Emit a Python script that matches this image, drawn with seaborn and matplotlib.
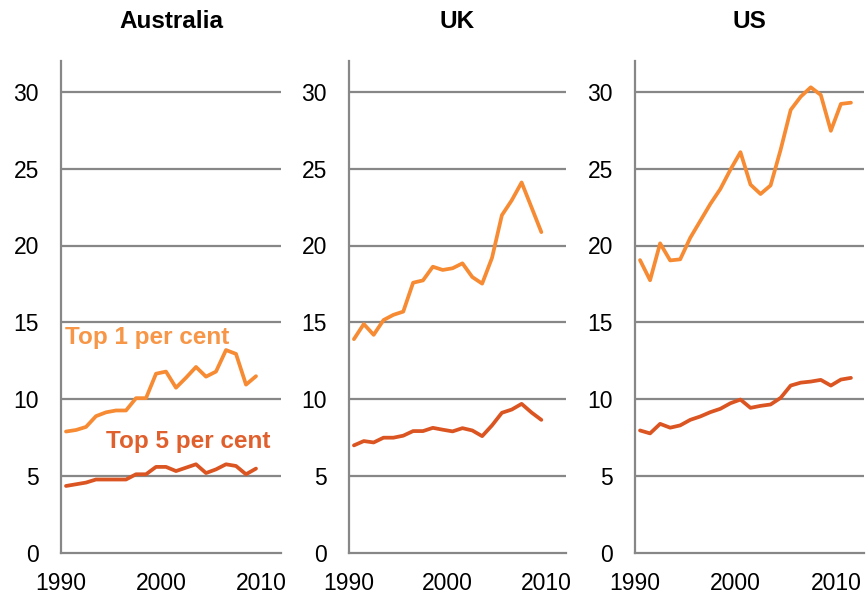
import matplotlib
matplotlib.use("Agg")
import matplotlib.pyplot as plt
import seaborn as sns
import pandas as pd

# ---- data ----
countries = ["Australia", "UK", "US"]

years_aus = list(range(1990, 2010))
aus_top1 = [7.9, 8.0, 8.2, 8.9, 9.15, 9.27, 9.27, 10.07, 10.07, 11.66,
            11.8, 10.75, 11.4, 12.1, 11.47, 11.8, 13.2, 12.95, 10.95, 11.5]
aus_top5 = [4.36, 4.47, 4.58, 4.78, 4.78, 4.78, 4.78, 5.12, 5.12, 5.6,
            5.6, 5.33, 5.55, 5.77, 5.2, 5.44, 5.77, 5.66, 5.12, 5.49]

years_uk = list(range(1990, 2010))
uk_top1 = [13.91, 14.89, 14.19, 15.15, 15.49, 15.70, 17.58, 17.73, 18.62, 18.41,
           18.52, 18.84, 17.95, 17.52, 19.2, 21.97, 22.94, 24.1, 22.49, 20.87]
uk_top5 = [7.0, 7.28, 7.19, 7.5, 7.5, 7.63, 7.93, 7.93, 8.14, 8.02,
           7.91, 8.12, 7.97, 7.6, 8.3, 9.12, 9.33, 9.7, 9.14, 8.66]

years_us = list(range(1990, 2012))
us_top1 = [19.05, 17.74, 20.14, 19.03, 19.1, 20.5, 21.6, 22.7, 23.68, 24.93, 26.07,
           23.96, 23.35, 23.91, 26.23, 28.82, 29.68, 30.29, 29.79, 27.46, 29.21, 29.29]
us_top5 = [7.97, 7.78, 8.4, 8.15, 8.3, 8.66, 8.88, 9.16, 9.38, 9.74, 9.98,
           9.44, 9.57, 9.66, 10.09, 10.89, 11.08, 11.15, 11.26, 10.89, 11.28, 11.39]

series_names = ["Top 1 per cent", "Top 5 per cent"]
y_ticks = [0, 5, 10, 15, 20, 25, 30]
x_ticks = [1990, 2000, 2010]

frames = []
for c, yrs, t1, t5 in [("Australia", years_aus, aus_top1, aus_top5),
                       ("UK", years_uk, uk_top1, uk_top5),
                       ("US", years_us, us_top1, us_top5)]:
    for name, vals in zip(series_names, [t1, t5]):
        frames.append(pd.DataFrame({"country": c, "year": yrs,
                                    "series": name, "share": vals}))
df = pd.concat(frames, ignore_index=True)
df["xpos"] = df["year"] + 0.5  # annual values plotted mid-year

# ---- style ----
sns.set_style("white")
plt.rcParams["font.family"] = ["Liberation Sans", "DejaVu Sans"]

line_colors = {"Top 1 per cent": "#F68B33", "Top 5 per cent": "#DB5522"}
text_colors = {"Top 1 per cent": "#F79646", "Top 5 per cent": "#E0602D"}
grid_color = "#878787"

W, H = 868, 596
fig = plt.figure(figsize=(W / 100, H / 100), dpi=100)

# pixel layout: (left, right, xmax)
layout = {"Australia": (61, 281, 2012.0),
          "UK": (349, 566, 2012.0),
          "US": (635, 864, 2012.8)}
y_bottom_px, y_top_px = 553, 61
title_center_px = 21

for c in countries:
    l, r, xmax = layout[c]
    ax = fig.add_axes([l / W, (H - y_bottom_px) / H, (r - l) / W,
                       (y_bottom_px - y_top_px) / H])
    sub = df[df["country"] == c]
    sns.lineplot(data=sub, x="xpos", y="share", hue="series",
                 palette=line_colors, linewidth=2.7, ax=ax, legend=False,
                 zorder=3)
    ax.set_xlim(1990, xmax)
    ax.set_ylim(0, 32)
    ax.set_yticks(y_ticks)
    ax.set_xticks(x_ticks)
    ax.set_xticklabels([str(t) for t in x_ticks])
    ax.set_xlabel("")
    ax.set_ylabel("")
    for yv in y_ticks[1:]:
        ax.axhline(yv, color=grid_color, lw=1.6, zorder=1)
    for s in ["top", "right"]:
        ax.spines[s].set_visible(False)
    for s in ["left", "bottom"]:
        ax.spines[s].set_color(grid_color)
        ax.spines[s].set_linewidth(1.6)
    ax.tick_params(axis="both", which="major", length=5, width=1.3,
                   color=grid_color, direction="out", labelsize=16.5,
                   labelcolor="black")
    ax.tick_params(axis="y", pad=11)
    ax.tick_params(axis="x", pad=9)
    ax.set_title(c, fontsize=17.5, fontweight="bold", pad=0, color="black",
                 y=(y_bottom_px - title_center_px) / (y_bottom_px - y_top_px),
                 va="center")
    ax.patch.set_alpha(0)

    if c == "Australia":
        ax.text(1990.4, 14.0, "Top 1 per cent", color=text_colors["Top 1 per cent"],
                fontsize=17.5, fontweight="bold", va="center", ha="left")
        ax.text(1994.55, 7.26, "Top 5 per cent", color=text_colors["Top 5 per cent"],
                fontsize=17.5, fontweight="bold", va="center", ha="left")

fig.savefig("out.png", dpi=100)
